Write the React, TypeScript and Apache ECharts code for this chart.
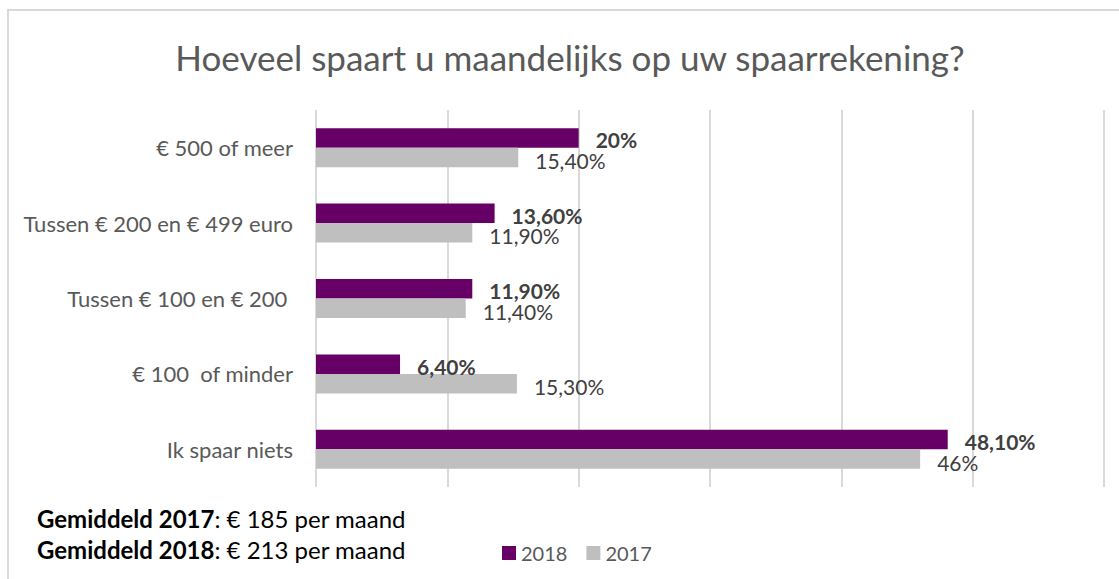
import React, { useEffect, useRef } from "react";
import * as echarts from "echarts";

const categories = [
  "€ 500 of meer",
  "Tussen € 200 en € 499 euro",
  "Tussen € 100 en € 200 ",
  "€ 100  of minder",
  "Ik spaar niets",
];
const values2018 = [20, 13.6, 11.9, 6.4, 48.1];
const values2017 = [15.4, 11.9, 11.4, 15.3, 46];
const seriesNames = ["2018", "2017"];
const titleText = "Hoeveel spaart u maandelijks op uw spaarrekening?";
const footerLines = [
  { bold: "Gemiddeld 2017", rest: ": € 185 per maand" },
  { bold: "Gemiddeld 2018", rest: ": € 213 per maand" },
];

const FONT = "Lato, 'Open Sans', sans-serif";

function fmt(v: number): string {
  if (Number.isInteger(v)) return v + "%";
  return v.toFixed(2).replace(".", ",") + "%";
}

export default function App() {
  const ref = useRef<HTMLDivElement>(null);
  useEffect(() => {
    if (!ref.current) return;
    const chart = echarts.init(ref.current, null, { renderer: "svg" });
    chart.setOption({
      animation: false,
      backgroundColor: "#ffffff",
      textStyle: { fontFamily: FONT },
      grid: { left: 316, right: 15, top: 110, bottom: 92, containLabel: false },
      xAxis: {
        type: "value",
        min: 0,
        max: 60,
        interval: 10,
        axisLabel: { show: false },
        axisLine: { show: false },
        axisTick: { show: false },
        splitLine: { show: true, lineStyle: { color: "#d9d9d9", width: 2 } },
      },
      yAxis: {
        type: "category",
        data: categories,
        inverse: true,
        axisLine: { show: false },
        axisTick: { show: false },
        axisLabel: { color: "#595959", fontSize: 22, fontFamily: FONT, margin: 23 },
      },
      legend: {
        left: 497,
        top: 538,
        itemWidth: 14,
        itemHeight: 14,
        itemGap: 19,
        icon: "rect",
        data: seriesNames,
        textStyle: { color: "#595959", fontSize: 20, fontFamily: FONT },
      },
      series: [
        {
          name: seriesNames[0],
          type: "bar",
          data: values2018,
          barWidth: 19.5,
          barGap: "0%",
          itemStyle: { color: "#660066" },
          label: {
            show: true,
            position: "right",
            distance: 17,
            offset: [0, 2],
            formatter: (p: any) => fmt(p.value),
            color: "#404040",
            fontWeight: "bold",
            fontSize: 21,
            fontFamily: FONT,
          },
        },
        {
          name: seriesNames[1],
          type: "bar",
          data: values2017,
          barWidth: 19.5,
          barGap: "0%",
          itemStyle: { color: "#bfbfbf" },
          label: {
            show: true,
            position: "right",
            distance: 17,
            offset: [0, 3],
            formatter: (p: any) => fmt(p.value),
            color: "#404040",
            fontSize: 21,
            fontFamily: FONT,
          },
        },
      ],
      graphic: [
        {
          type: "rect",
          shape: { x: 8, y: 10, width: 1300, height: 800 },
          style: { fill: "none", stroke: "#d9d9d9", lineWidth: 2 },
          silent: true,
        },
        {
          type: "text",
          x: 570,
          y: 57,
          style: {
            text: titleText,
            fill: "#595959",
            font: `35px ${FONT}`,
            textAlign: "center",
            textVerticalAlign: "middle",
          },
        },
        ...footerLines.map((l, i) => ({
          type: "text",
          x: 37,
          y: 518 + i * 31,
          style: {
            text: `{b|${l.bold}}{n|${l.rest}}`,
            textVerticalAlign: "middle",
            rich: {
              b: { fontWeight: "bold", fontSize: 24, fontFamily: FONT, fill: "#000000" },
              n: { fontSize: 24, fontFamily: FONT, fill: "#000000" },
            },
          },
        })),
      ],
    });
    return () => chart.dispose();
  }, []);
  return (
    <div
      ref={ref}
      style={{ position: "fixed", left: 0, top: 0, width: 1119, height: 579 }}
    />
  );
}
